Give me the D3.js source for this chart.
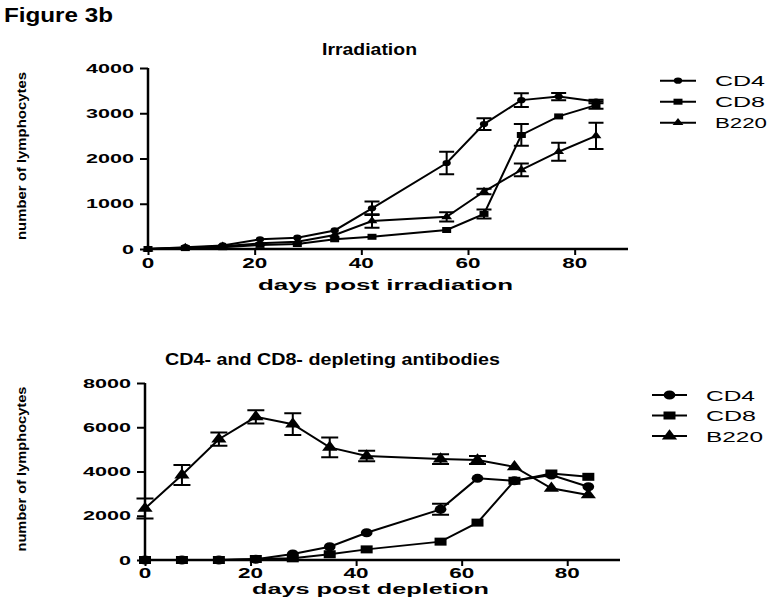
<!DOCTYPE html>
<html><head><meta charset="utf-8">
<script src="https://cdn.jsdelivr.net/npm/d3@7"></script>
<style>body{margin:0;background:#fff}svg{display:block}text{font-family:"Liberation Sans",Arial,sans-serif;fill:#000}</style>
</head><body>
<script>
const days = [0,7,14,21,28,35,42,56,63,70,77,84];
const seriesNames = ["CD4","CD8","B220"];
// Top panel: Irradiation
const irrCD4 = [0,40,80,215,250,410,900,1900,2760,3290,3370,3260];
const irrCD4Err = [0,0,0,0,0,0,150,250,130,150,80,40];
const irrCD8 = [0,20,40,90,110,215,270,420,775,2520,2930,3180];
const irrCD8Err = [0,0,0,0,0,0,0,0,100,240,0,80];
const irrB220 = [0,30,60,125,160,310,620,710,1270,1750,2150,2500];
const irrB220Err = [0,0,0,0,0,0,150,100,60,140,200,290];
// Bottom panel: depleting antibodies
const depCD4 = [0,0,0,30,270,600,1230,2290,3690,3580,3840,3310];
const depCD4Err = [0,0,0,0,0,0,0,250,0,0,0,0];
const depCD8 = [0,0,0,45,75,260,480,830,1690,3580,3910,3760];
const depCD8Err = [0,0,0,0,0,0,0,0,0,0,0,0];
const depB220 = [2330,3840,5460,6470,6140,5090,4700,4560,4520,4210,3240,2940];
const depB220Err = [450,450,300,300,490,450,240,225,180,0,0,0];
const xTicks = [0,20,40,60,80];
const yTicksTop = [0,1000,2000,3000,4000];
const yTicksBottom = [0,2000,4000,6000,8000];

const svg = d3.select("body").append("svg").attr("width",779).attr("height",609);

function txt(x,y,s,opt){
  const t = svg.append("text").attr("x",x).attr("y",y).text(s)
    .attr("font-size",opt.size).attr("font-weight",opt.bold?"bold":"normal");
  if(opt.anchor) t.attr("text-anchor",opt.anchor);
  if(opt.len) t.attr("textLength",opt.len).attr("lengthAdjust","spacingAndGlyphs");
  if(opt.rot) t.attr("transform",`rotate(-90,${x},${y})`);
  return t;
}

txt(4,22,"Figure 3b",{size:20,bold:true,len:109});

function panel(cfg){
  const x = d3.scaleLinear().domain([0,90]).range(cfg.xr);
  const y = d3.scaleLinear().domain(cfg.yd).range(cfg.yr);
  const g = svg.append("g");
  const xa = g.append("g").attr("transform",`translate(0,${cfg.yr[0]})`)
    .call(d3.axisBottom(x).tickValues(xTicks).tickSize(6).tickFormat(""));
  const ya = g.append("g").attr("transform",`translate(${cfg.xr[0]},0)`)
    .call(d3.axisLeft(y).tickValues(cfg.yTicks).tickSize(8).tickFormat(""));
  [xa,ya].forEach(a=>{a.select(".domain").attr("stroke","#000").attr("stroke-width",2.5);
    a.selectAll(".tick line").attr("stroke","#000").attr("stroke-width",2);});
  xa.select(".domain").attr("d",`M${cfg.xr[0]},0H${cfg.xr[1]}`);
  ya.select(".domain").attr("d",`M0,${cfg.yr[0]}V${cfg.yr[1]}`);
  xTicks.forEach(v=>{const s=String(v);
    txt(x(v),cfg.yr[0]+cfg.xtOff,s,{size:14,bold:true,anchor:"middle",len:12.5*s.length});});
  cfg.yTicks.forEach(v=>{const s=String(v);
    txt(cfg.xr[0]-14,y(v)+4.5,s,{size:13,bold:true,anchor:"end",len:12*s.length});});
  const sym = [d3.symbolCircle,d3.symbolSquare,d3.symbolTriangle];
  cfg.series.forEach((s,i)=>{
    const line = d3.line().x((d,j)=>x(days[j])).y(d=>y(d));
    g.append("path").attr("d",line(s.v)).attr("fill","none").attr("stroke","#000").attr("stroke-width",2);
    s.v.forEach((v,j)=>{
      const e = s.e[j]; if(!e) return;
      const cx = x(days[j]), hw = cfg.cap/2;
      g.append("path").attr("d",`M${cx},${y(v-e)}V${y(v+e)}M${cx-hw},${y(v-e)}H${cx+hw}M${cx-hw},${y(v+e)}H${cx+hw}`)
        .attr("stroke","#000").attr("stroke-width",2).attr("fill","none");
    });
    s.v.forEach((v,j)=>{
      g.append("path").attr("d",d3.symbol(sym[i],cfg.msize[i])())
        .attr("transform",`translate(${x(days[j])},${y(v)}) scale(${cfg.msx[i]},1)`).attr("fill","#000");
    });
    const ly = cfg.leg.y0 + i*cfg.leg.dy;
    svg.append("line").attr("x1",cfg.leg.x1).attr("x2",cfg.leg.x2).attr("y1",ly).attr("y2",ly)
      .attr("stroke","#000").attr("stroke-width",2);
    svg.append("path").attr("d",d3.symbol(sym[i],cfg.msize[i])())
      .attr("transform",`translate(${(cfg.leg.x1+cfg.leg.x2)/2},${ly}) scale(${cfg.msx[i]},1)`).attr("fill","#000");
    txt(cfg.leg.tx,ly+5.5,seriesNames[i],{size:15.5,len:cfg.leg.lens[i]});
  });
  txt(cfg.title.x,cfg.title.y,cfg.title.s,{size:17,bold:true,len:cfg.title.len});
  txt(cfg.xl.x,cfg.xl.y,cfg.xl.s,{size:14.5,bold:true,len:cfg.xl.len});
  txt(26,cfg.ylc,"number of lymphocytes",{size:12,bold:true,anchor:"middle",len:cfg.yllen,rot:true});
}

panel({xr:[148,628],yr:[249,68],yd:[0,4000],yTicks:yTicksTop,xtOff:19,cap:15,
  msize:[30,36,30],msx:[1.35,1.5,1.3],
  series:[{v:irrCD4,e:irrCD4Err},{v:irrCD8,e:irrCD8Err},{v:irrB220,e:irrB220Err}],
  leg:{x1:660,x2:696,y0:80.7,dy:21,tx:715,lens:[50,50,52]},
  title:{x:322,y:55,s:"Irradiation",len:95},
  xl:{x:258,y:289.5,s:"days post irradiation",len:255},
  ylc:156,yllen:168});

panel({xr:[145,620],yr:[560,383],yd:[0,8000],yTicks:yTicksBottom,xtOff:18,cap:17,
  msize:[64,64,60],msx:[1.3,1.5,1.3],
  series:[{v:depCD4,e:depCD4Err},{v:depCD8,e:depCD8Err},{v:depB220,e:depB220Err}],
  leg:{x1:652,x2:687,y0:395,dy:20.5,tx:706,lens:[49,50,57]},
  title:{x:165,y:365,s:"CD4- and CD8- depleting antibodies",len:335},
  xl:{x:252,y:594,s:"days post depletion",len:237},
  ylc:469,yllen:165});
</script>
</body></html>
